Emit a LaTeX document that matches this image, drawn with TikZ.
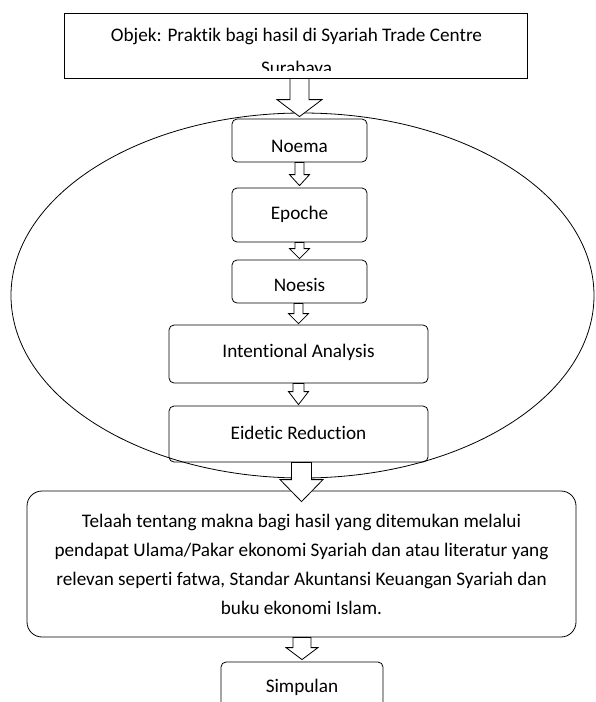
\documentclass[tikz,border=0pt]{standalone}
\usepackage{fontspec}
\setmainfont[Ligatures=NoCommon]{Carlito}
\usetikzlibrary{calc}
\tikzset{
  box/.style={draw=black, fill=white, rounded corners=5pt, line width=0.8pt, inner sep=0pt,
    font=\fontsize{19.2}{29}\selectfont, text depth=0pt},
  lbl/.style={font=\fontsize{19.2}{29}\selectfont, inner sep=0pt},
  barr/.style={draw=black, fill=white, line width=0.8pt, line join=miter},
}
\newcommand\blockarrow[5]{%
  \draw[barr] let \p1=(#1), \p2=(#2) in
    (\x2-#3pt,\y1) -- (\x2-#3pt,\y2+#5pt) -- (\x2-#4pt,\y2+#5pt) -- (\x2,\y2)
    -- (\x2+#4pt,\y2+#5pt) -- (\x2+#3pt,\y2+#5pt) -- (\x2+#3pt,\y1) -- cycle;}
\begin{document}
\begin{tikzpicture}[x=1pt,y=-1pt]
\path[use as bounding box] (0,0) rectangle (595,702);
\fill[white] (0,0) rectangle (595,702);

% top box with clipped text
\node[draw=black, fill=white, line width=0.8pt, inner sep=0pt,
      minimum width=463pt, minimum height=65pt] (top) at (295.5,45.5) {};
\begin{scope}
  \clip (60,14) rectangle (530,70);
  \node[lbl, anchor=base] (topline1) at (296.5,41) {Objek: Praktik bagi hasil di Syariah Trade Centre};
  \node[lbl, anchor=base] (topline2) at (296.5,74) {Surabaya};
\end{scope}

% inner boxes
\node[box, minimum width=135pt, minimum height=43pt, text height=23pt] (noema) at (299.5,140.5) {Noema};
\node[box, minimum width=135pt, minimum height=54pt, text height=8pt] (epoche) at (299.5,215) {Epoche};
\node[box, minimum width=135pt, minimum height=43pt, text height=19pt] (noesis) at (299.5,281.5) {Noesis};
\node[box, minimum width=259pt, minimum height=58pt, text height=6pt] (intent) at (298.5,354) {Intentional Analysis};
\node[box, minimum width=259pt, minimum height=56pt, text height=10pt] (eidetic) at (298.5,434) {Eidetic Reduction};

% big box
\node[box, rounded corners=15pt, minimum width=549pt, minimum height=146pt, align=center, text depth=] (telaah) at (301.5,564)
  {Telaah tentang makna bagi hasil yang ditemukan melalui\\
   pendapat Ulama/Pakar ekonomi Syariah dan atau literatur yang\\
   relevan seperti fatwa, Standar Akuntansi Keuangan Syariah dan\\
   buku ekonomi Islam.};

% simpulan
\node[box, minimum width=162pt, minimum height=50pt, text height=10pt] (simpulan) at (302,687) {Simpulan};

% ellipse
\draw[line width=0.8pt] (302.5,295.5) ellipse [x radius=291.5, y radius=182.5];

% block arrows
\blockarrow{top.south}{[yshift=2pt]noema.north}{9.5}{22.5}{17}
\blockarrow{noema.south}{[yshift=2pt]epoche.north}{4.5}{10}{11}
\blockarrow{epoche.south}{[yshift=1pt]noesis.north}{4.5}{10}{10}
\blockarrow{noesis.south}{[yshift=1pt]intent.north}{4.5}{10}{10}
\blockarrow{intent.south}{[yshift=1pt]eidetic.north}{5.5}{10}{13}
\blockarrow{eidetic.south}{[yshift=-11pt]telaah.north}{10}{21.5}{22}
\blockarrow{telaah.south}{[yshift=2pt]simpulan.north}{9}{16}{12}
\end{tikzpicture}
\end{document}
